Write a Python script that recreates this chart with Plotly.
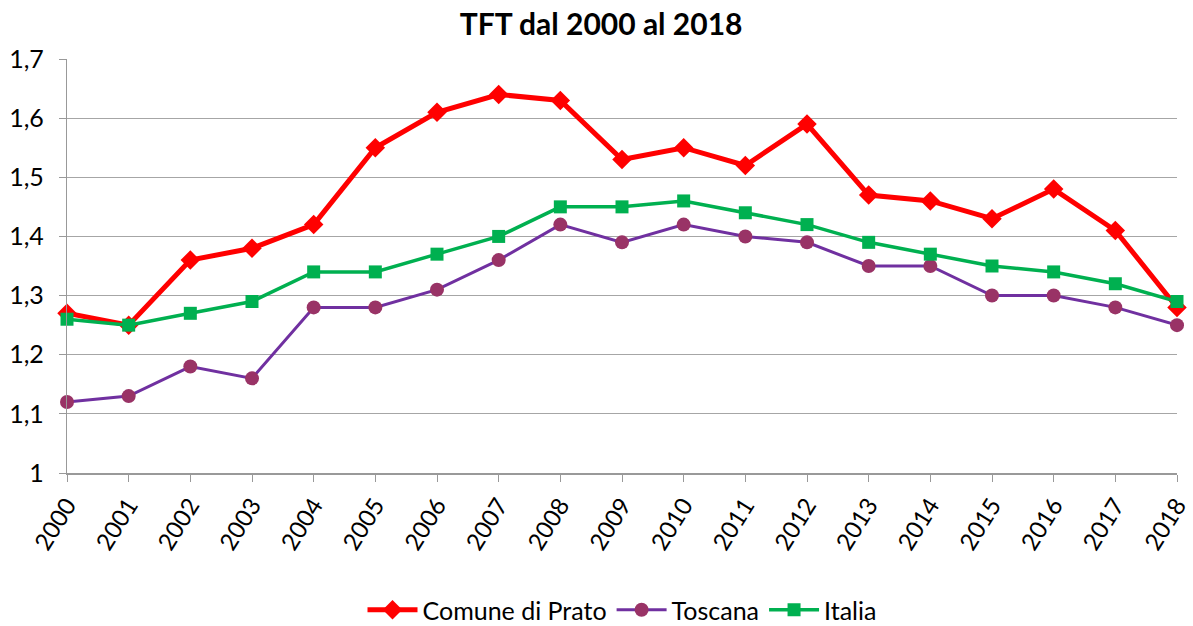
import plotly.graph_objects as go

years = list(range(2000, 2019))
year_labels = [str(y) for y in years]
prato = [1.27, 1.25, 1.36, 1.38, 1.42, 1.55, 1.61, 1.64, 1.63, 1.53, 1.55, 1.52, 1.59, 1.47, 1.46, 1.43, 1.48, 1.41, 1.28]
toscana = [1.12, 1.13, 1.18, 1.16, 1.28, 1.28, 1.31, 1.36, 1.42, 1.39, 1.42, 1.40, 1.39, 1.35, 1.35, 1.30, 1.30, 1.28, 1.25]
italia = [1.26, 1.25, 1.27, 1.29, 1.34, 1.34, 1.37, 1.40, 1.45, 1.45, 1.46, 1.44, 1.42, 1.39, 1.37, 1.35, 1.34, 1.32, 1.29]
y_ticks = [1.0, 1.1, 1.2, 1.3, 1.4, 1.5, 1.6, 1.7]
y_tick_labels = ["1", "1,1", "1,2", "1,3", "1,4", "1,5", "1,6", "1,7"]

FONT = "Lato, Open Sans, sans-serif"
W, H = 1193, 626

fig = go.Figure()
fig.add_trace(go.Scatter(
    x=years, y=prato, name="Comune di Prato", mode="lines+markers",
    line=dict(color="#FF0000", width=5),
    marker=dict(symbol="diamond", size=15, color="#FF0000"),
    cliponaxis=False,
))
fig.add_trace(go.Scatter(
    x=years, y=toscana, name="Toscana", mode="lines+markers",
    line=dict(color="#7030A0", width=3),
    marker=dict(symbol="circle", size=14, color="#993366"),
    cliponaxis=False,
))
fig.add_trace(go.Scatter(
    x=years, y=italia, name="Italia", mode="lines+markers",
    line=dict(color="#00B050", width=3.5),
    marker=dict(symbol="square", size=13, color="#00B050"),
    cliponaxis=False,
))

fig.update_layout(
    width=W, height=H,
    paper_bgcolor="white", plot_bgcolor="white",
    margin=dict(l=67, r=16, t=59, b=153, autoexpand=False),
    title=dict(text="<b>TFT dal 2000 al 2018</b>", x=574 / W, xref="paper", xanchor="center",
               y=1 - 24 / H, yanchor="middle", pad=dict(t=0, b=0),
               font=dict(family=FONT, size=30, color="black")),
    font=dict(family=FONT, size=24, color="black"),
    showlegend=True,
    legend=dict(orientation="h", x=0.5, xanchor="center",
                yref="container", y=16 / H, yanchor="middle",
                font=dict(family=FONT, size=25, color="black"),
                itemwidth=50, tracegroupgap=0),
    xaxis=dict(
        range=[2000, 2018], tickmode="array", tickvals=years, ticktext=year_labels,
        tickangle=-58, showgrid=False, zeroline=False, automargin=False,
        showline=True, linecolor="#999999", linewidth=1.5,
        ticks="outside", ticklen=7, tickcolor="#999999",
        tickfont=dict(family=FONT, size=24, color="black"),
    ),
    yaxis=dict(
        range=[1.0, 1.7], tickmode="array", tickvals=y_ticks, ticktext=y_tick_labels,
        showgrid=True, gridcolor="#A6A6A6", gridwidth=1.3, zeroline=False, automargin=False,
        showline=True, linecolor="#999999", linewidth=1.3,
        ticks="outside", ticklen=7, tickcolor="#999999", ticklabelstandoff=10,
        tickfont=dict(family=FONT, size=25, color="black"),
    ),
)

# remove the page's default 8px body margin so the figure fills the window
fig.write_html("out.html", config={"displayModeBar": False},
               post_script="document.body.style.margin='0px';")
